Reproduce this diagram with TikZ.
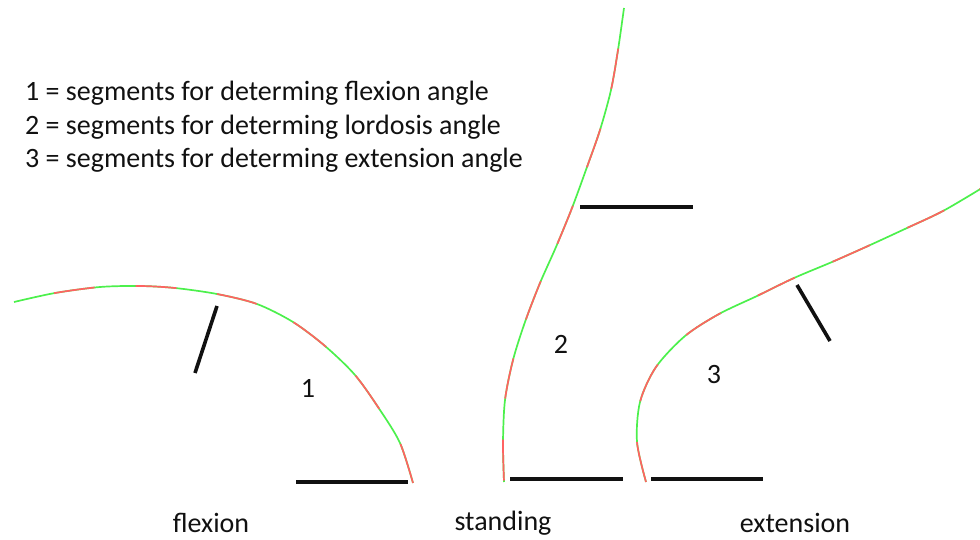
\documentclass[tikz,border=0pt]{standalone}
\usepackage{fontspec}
\setmainfont{Carlito}
\usepackage{xcolor}
\definecolor{segred}{HTML}{FF6262}
\definecolor{seggreen}{HTML}{4CF04C}
\definecolor{ink}{HTML}{111111}
\tikzset{
  spine/.style={seggreen, line width=1.7pt},
  spinered/.style={segred, line width=1.7pt, dash pattern=on 41pt off 41pt},
  refline/.style={ink, line width=3.6pt},
  lbl/.style={font=\fontsize{28}{32}\selectfont, text=ink, inner sep=0pt}
}
\begin{document}
\begin{tikzpicture}[x=1pt, y=-1pt]
  \useasboundingbox (0,0) rectangle (980,540);

  % legend
  \node[lbl, anchor=west] (key1) at (25,93) {1 = segments for determing flexion angle};
  \node[lbl, anchor=west] (key2) at (25,127) {2 = segments for determing lordosis angle};
  \node[lbl, anchor=west] (key3) at (25,160) {3 = segments for determing extension angle};

  % flexion
  \def\flexpath{plot[smooth] coordinates {(14,302) (55,293) (100,287) (140,286) (175,288)
    (217,294) (257,304) (293,322) (325,346) (355,375) (380,410) (400,443) (413,483)}}
  \draw[spine] \flexpath;
  \draw[spinered, dash phase=41pt] \flexpath;
  \coordinate (f1) at (217,306);
  \coordinate (f2) at (195,373);
  \draw[refline] (f1) -- (f2);
  \coordinate (f3) at (296,482);
  \coordinate (f4) at (408,482);
  \draw[refline] (f3) -- (f4);
  \node[lbl] (n1) at (308,388) {1};
  \node[lbl] (flexion) at (211,523) {flexion};

  % standing
  \def\standpath{plot[smooth] coordinates {(624,8) (618,50) (611,90) (600,130) (587,167)
    (572,208) (556,247) (540,283) (525,322) (513,360) (505,400) (503,442) (504,482)}}
  \draw[spine] \standpath;
  \draw[spinered, dash phase=41pt] \standpath;
  \coordinate (s1) at (580,207);
  \coordinate (s2) at (693,207);
  \draw[refline] (s1) -- (s2);
  \coordinate (s3) at (510,479);
  \coordinate (s4) at (623,479);
  \draw[refline] (s3) -- (s4);
  \node[lbl] (n2) at (561,344) {2};
  \node[lbl] (standing) at (503,523) {standing};

  % extension
  \def\extpath{plot[smooth] coordinates {(646,482) (637,442) (640,402) (656,367) (685,336)
    (719,314) (757,296) (794,278) (832,262) (868,246) (907,228) (943,211) (982,188)}}
  \draw[spine] \extpath;
  \draw[spinered] \extpath;
  \coordinate (e1) at (797,285);
  \coordinate (e2) at (830,341);
  \draw[refline] (e1) -- (e2);
  \coordinate (e3) at (651,479);
  \coordinate (e4) at (763,479);
  \draw[refline] (e3) -- (e4);
  \node[lbl] (n3) at (714,375) {3};
  \node[lbl] (extension) at (795,523) {extension};
\end{tikzpicture}
\end{document}
